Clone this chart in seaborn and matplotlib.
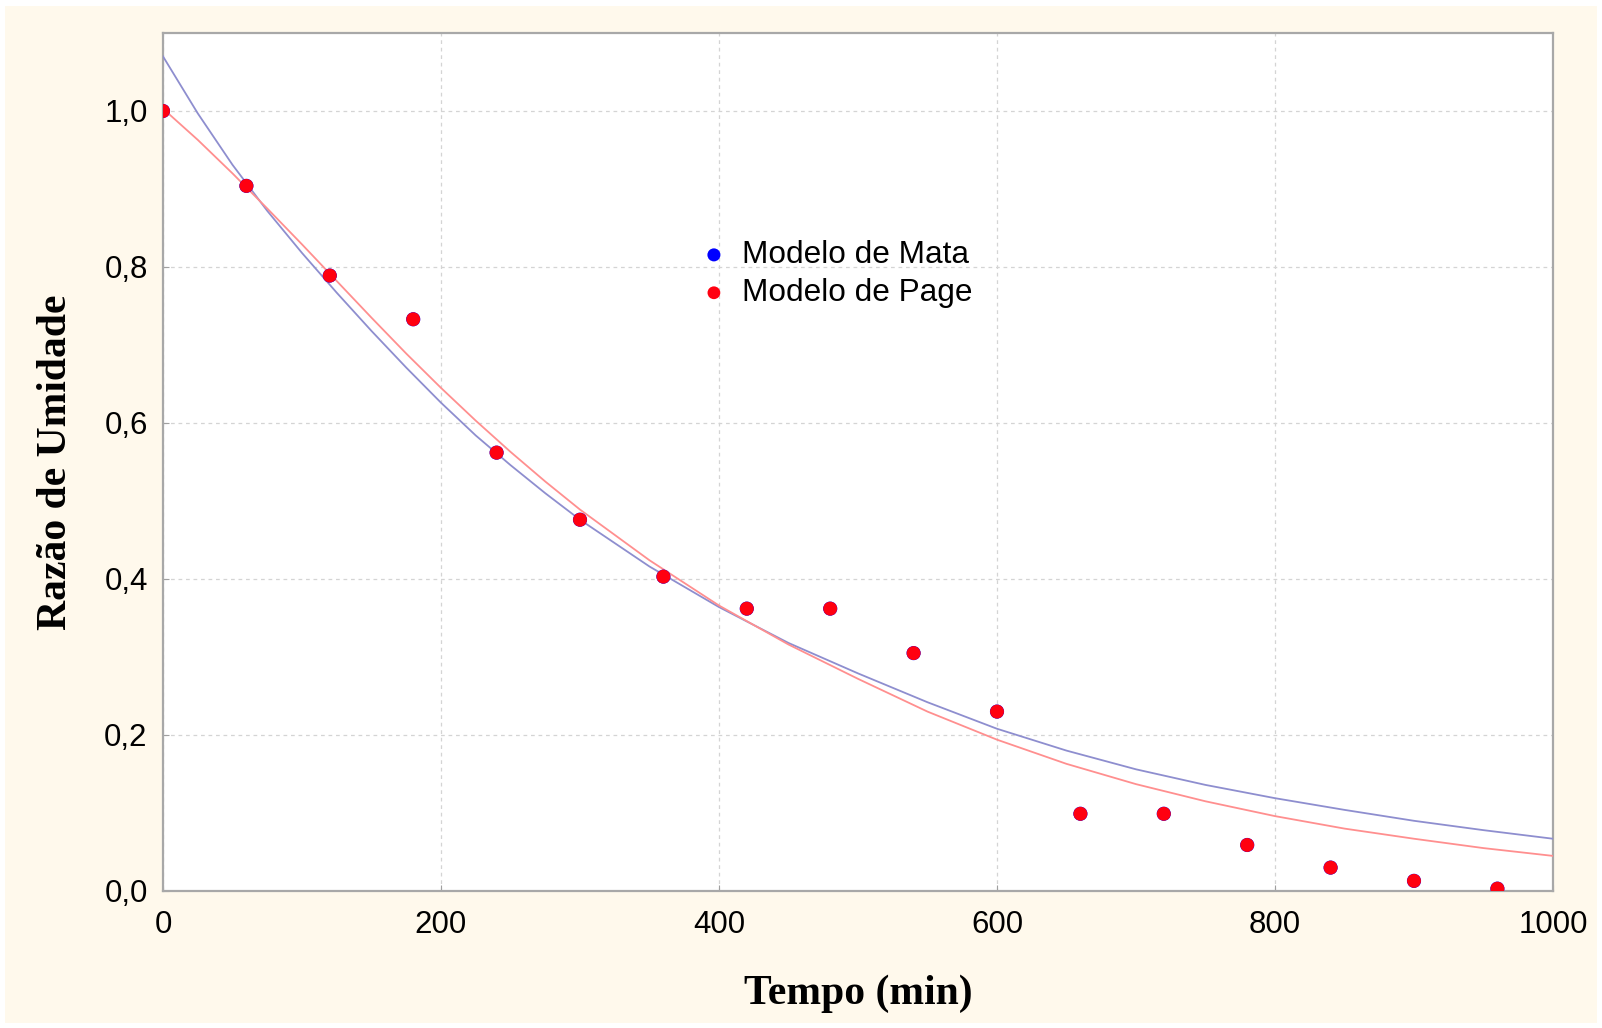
import numpy as np
import pandas as pd
import seaborn as sns
import matplotlib.pyplot as plt
from matplotlib.patches import Rectangle

# experimental points (tempo em min, razao de umidade)
tempo = [0, 60, 120, 180, 240, 300, 360, 420, 480, 540, 600, 660, 720, 780, 840, 900, 960]
razao = [1.0, 0.904, 0.789, 0.733, 0.562, 0.476, 0.403, 0.362, 0.362, 0.305, 0.230,
         0.099, 0.099, 0.059, 0.030, 0.013, 0.003]

# fitted curves (denser where they bend most)
tempo_curva = [0, 25, 50, 75, 100, 125, 150, 175, 200, 225, 250, 275, 300,
               350, 400, 450, 500, 550, 600, 650, 700, 750, 800, 850, 900, 950, 1000]
mata = [1.070, 0.997, 0.931, 0.872, 0.818, 0.767, 0.718, 0.671, 0.626, 0.584, 0.546, 0.510, 0.476,
        0.416, 0.364, 0.318, 0.279, 0.242, 0.208, 0.180, 0.156, 0.136, 0.119, 0.104, 0.090, 0.078, 0.067]
page = [1.003, 0.963, 0.920, 0.875, 0.829, 0.782, 0.735, 0.689, 0.645, 0.603, 0.563, 0.525, 0.489,
        0.424, 0.366, 0.316, 0.272, 0.230, 0.194, 0.163, 0.137, 0.115, 0.096, 0.080, 0.067, 0.055, 0.045]

xticks = [0, 200, 400, 600, 800, 1000]
yticks = [0.0, 0.2, 0.4, 0.6, 0.8, 1.0]

pontos = pd.DataFrame({'tempo': tempo, 'razao': razao})
curvas = pd.DataFrame({'tempo': tempo_curva, 'mata': mata, 'page': page})

creme = '#fff9ec'
fig = plt.figure(figsize=(16.02, 10.28), dpi=100)
fig.patch.set_facecolor('white')
fig.patches.append(Rectangle((5 / 1602, 5 / 1028), 1592 / 1602, 1017 / 1028,
                             transform=fig.transFigure, facecolor=creme,
                             edgecolor='none', zorder=-10))
ax = fig.add_axes([163 / 1602, 1 - 891 / 1028, 1390 / 1602, 858 / 1028])
ax.set_facecolor('white')

sns.lineplot(ax=ax, data=curvas, x='tempo', y='mata', color='#8e8ecf', lw=1.3, zorder=3)
sns.lineplot(ax=ax, data=curvas, x='tempo', y='page', color='#ff8f8f', lw=1.3, zorder=3)
sns.scatterplot(ax=ax, data=pontos, x='tempo', y='razao', color='#0000ff', s=104,
                edgecolor='none', label='Modelo de Mata', zorder=4)
sns.scatterplot(ax=ax, data=pontos, x='tempo', y='razao', color='#ff0010', s=100,
                edgecolor='none', label='Modelo de Page', zorder=5)

ax.set_xlim(0, 1000)
ax.set_ylim(0, 1.1)
ax.set_xticks(xticks)
ax.set_xticklabels([str(t) for t in xticks])
ax.set_yticks(yticks)
ax.set_yticklabels([f'{v:.1f}'.replace('.', ',') for v in yticks])
ax.tick_params(direction='in', length=4, color='#a0a0a0', labelsize=22.5)
ax.tick_params(axis='x', pad=14)
ax.tick_params(axis='y', pad=11)
for lab in ax.get_xticklabels() + ax.get_yticklabels():
    lab.set_family('Liberation Sans')

ax.grid(True, color='#d4d4d4', linestyle=(0, (3, 3)), lw=0.9)
for s in ax.spines.values():
    s.set_color('#a8a8a8')
    s.set_linewidth(1.6)

ax.set_xlabel('Tempo (min)', fontsize=30, fontweight='bold', family='Liberation Serif')
ax.set_ylabel('Razão de Umidade', fontsize=30, fontweight='bold', family='Liberation Serif')
ax.xaxis.set_label_coords(0.5, -0.097)
ax.yaxis.set_label_coords(-0.063, 0.5)

ax.legend(loc='center left', bbox_to_anchor=(0.385, 0.719), frameon=False,
          prop={'family': 'Liberation Sans', 'size': 22.7}, handletextpad=0.4,
          handlelength=1.0, borderpad=0, borderaxespad=0, labelspacing=0.25,
          markerscale=0.92)

fig.savefig('out.png', dpi=100, facecolor=fig.get_facecolor())
